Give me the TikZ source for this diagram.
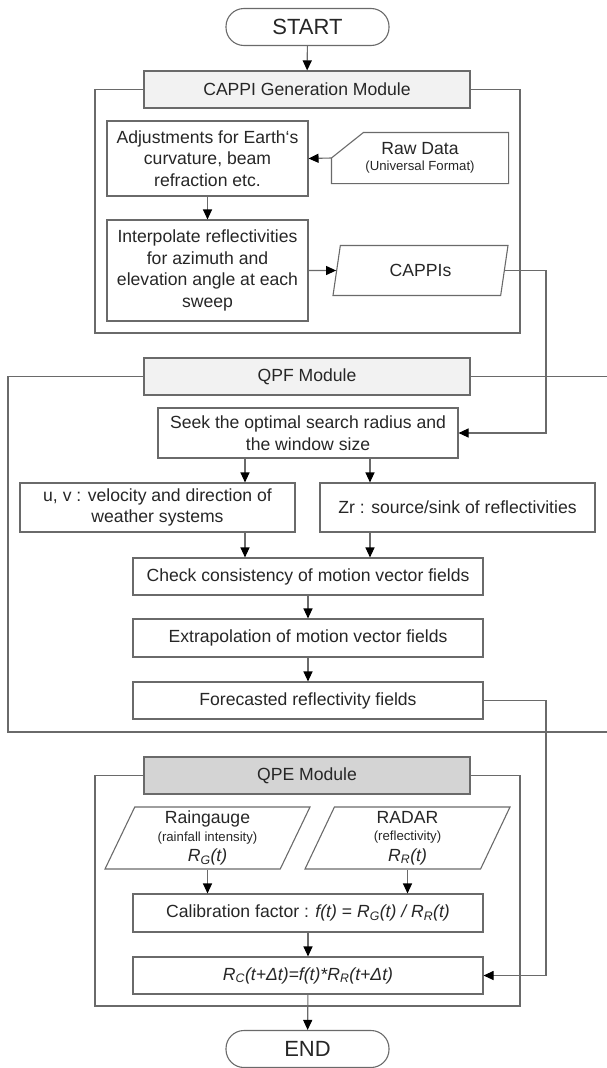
\documentclass[tikz,border=0pt]{standalone}
\usepackage{fontspec}
\setmainfont{Liberation Sans}
\usetikzlibrary{calc,arrows.meta,shapes.geometric}

\definecolor{linegray}{HTML}{6A6A6A}
\definecolor{txtgray}{HTML}{262626}
\definecolor{hdrlight}{HTML}{F2F2F2}
\definecolor{hdrdark}{HTML}{D4D4D4}
\newcommand\subtxt{\fontsize{13.2}{16}\selectfont}

\begin{document}
\begin{tikzpicture}[x=1pt, y=-1pt,
  wire/.style={draw=linegray, line width=1.1pt},
  arr/.style={wire, -{Triangle[length=10pt,width=9pt,color=black]}},
  box/.style={wire, rectangle, inner sep=2pt, align=center, text=txtgray, font=\fontsize{17.6}{21.5}\selectfont},
  hdr/.style={box, minimum width=326pt, minimum height=37pt},
  term/.style={box, rounded corners=18pt, minimum width=163pt, minimum height=37pt, font=\fontsize{22}{26}\selectfont},
  io/.style={box, trapezium, trapezium left angle=#1, trapezium right angle=180-#1, trapezium stretches body},
]
\useasboundingbox (0,0) rectangle (607,1068);
\coordinate (bus) at (546,0);
\coordinate (lcol) at (245,0);
\coordinate (rcol) at (370,0);

% CAPPI generation module
\node [term] (start) at (307.5,27) {START};
\node [hdr, fill=hdrlight] (cappihdr) at (307,89.5) {CAPPI Generation Module};
\draw [wire] (cappihdr.west) -- (95,89.5) -- (95,333) -- (520,333) -- (520,89.5) -- (cappihdr.east);
\draw [arr] (start) -- (cappihdr);

\node [box, minimum width=201pt, minimum height=75pt] (adjust) at (207.5,158.5) {Adjustments for Earth`s\\curvature, beam\\refraction etc.};
\node [box, draw=none, minimum width=176pt, minimum height=50pt] (rawdata) at (420,158) {Raw Data\\[-5pt]{\subtxt (Universal Format)}};
\draw [wire] (rawdata.west) -- ([xshift=32pt]rawdata.north west) -- (rawdata.north east) -- (rawdata.south east) -- (rawdata.south west) -- cycle;
\draw [arr] (rawdata.west) -- (adjust.east);

\node [box, minimum width=201pt, minimum height=101pt] (interp) at (207.5,270.5) {Interpolate reflectivities\\for azimuth and\\elevation angle at each\\sweep};
\draw [arr] (adjust) -- (interp);
\node [io=66, minimum width=175pt, minimum height=50pt] (cappis) at (420.5,270.5) {CAPPIs};
\draw [arr] (interp.east) -- (cappis.west);

% QPF module
\node [hdr, fill=hdrlight] (qpfhdr) at (307,376.5) {QPF Module};
\draw [wire] (qpfhdr.west) -- (8,376.5) -- (8,732) -- (607,732);
\draw [wire] (qpfhdr.east) -- (607,376.5);

\node [box, minimum width=300pt, minimum height=50pt] (seek) at (308,433) {Seek the optimal search radius and\\the window size};
\draw [arr] (cappis.east) -- (cappis.east -| bus) |- (seek.east);

\node [box, minimum width=275pt, minimum height=49pt] (uv) at (157.5,507.5) {u, v : velocity and direction of\\weather systems};
\node [box, minimum width=275pt, minimum height=49pt] (zr) at (457.5,507.5) {Zr : source/sink of reflectivities};
\draw [arr] (seek.south -| lcol) -- (uv.north -| lcol);
\draw [arr] (seek.south -| rcol) -- (zr.north -| rcol);

\node [box, minimum width=350pt, minimum height=37pt] (check) at (308,576.5) {Check consistency of motion vector fields};
\draw [arr] (uv.south -| lcol) -- (check.north -| lcol);
\draw [arr] (zr.south -| rcol) -- (check.north -| rcol);
\node [box, minimum width=350pt, minimum height=38pt] (extrap) at (308,638) {Extrapolation of motion vector fields};
\draw [arr] (check) -- (extrap);
\node [box, minimum width=350pt, minimum height=37pt] (fcast) at (308,700.5) {Forecasted reflectivity fields};
\draw [arr] (extrap) -- (fcast);

% QPE module
\node [hdr, fill=hdrdark] (qpehdr) at (307,775.5) {QPE Module};
\draw [wire] (qpehdr.west) -- (95,775.5) -- (95,1006) -- (520,1006) -- (520,775.5) -- (qpehdr.east);

\node [io=63, minimum width=205pt, minimum height=62pt] (rain) at (207.5,838) {Raingauge\\[-4pt]{\subtxt (rainfall intensity)}\\[-1pt]\textit{R\textsubscript{G}(t)}};
\node [io=63, minimum width=205pt, minimum height=62pt] (radar) at (407.5,838) {RADAR\\[-4pt]{\subtxt (reflectivity)}\\[-1pt]\textit{R\textsubscript{R}(t)}};

\node [box, minimum width=350pt, minimum height=38pt] (calib) at (308,913) {Calibration factor : \textit{f(t)} = \textit{R\textsubscript{G}(t) / R\textsubscript{R}(t)}};
\draw [arr] (rain.south) -- (rain.south |- calib.north);
\draw [arr] (radar.south) -- (radar.south |- calib.north);

\node [box, minimum width=350pt, minimum height=37pt] (rc) at (308,975.5) {\textit{R\textsubscript{C}(t+Δt)=f(t)*R\textsubscript{R}(t+Δt)}};
\draw [arr] (calib) -- (rc);
\draw [arr] (fcast.east) -- (fcast.east -| bus) |- (rc.east);

\node [term] (finish) at (307.5,1049) {END};
\draw [arr] (rc) -- (finish);
\end{tikzpicture}
\end{document}
